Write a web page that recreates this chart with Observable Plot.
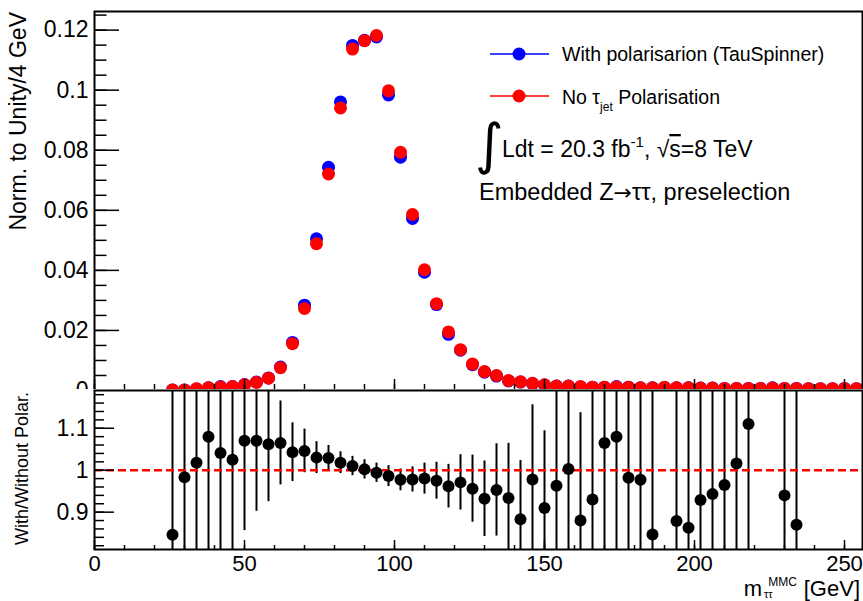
<!DOCTYPE html>
<html><head><meta charset="utf-8">
<script src="https://cdn.jsdelivr.net/npm/d3@7"></script>
<script src="https://cdn.jsdelivr.net/npm/@observablehq/plot@0.6"></script>
<style>
body{margin:0;background:#fff;}
#wrap{position:relative;width:863px;height:601px;overflow:hidden;background:#fff;font-family:"Liberation Sans",Arial,Helvetica,sans-serif;}
#topPanel,#botPanel{position:absolute;left:0;}
#topPanel{top:0;}
#botPanel{top:389px;background:#fff;}
svg{overflow:visible;}
</style></head><body><div id="wrap"><div id="topPanel"></div><div id="botPanel"></div></div>
<script>
// ---- data ----
const binCenters = [26,30,34,38,42,46,50,54,58,62,66,70,74,78,82,86,90,94,98,102,106,110,114,118,122,126,130,134,138,142,146,150,154,158,162,166,170,174,178,182,186,190,194,198,202,206,210,214,218,222,226,230,234,238,242,246,250,254];
const withPol = [0.0002,0.0002,0.0005,0.0009,0.0013,0.0013,0.0020,0.0028,0.0042,0.0078,
  0.0160,0.0284,0.0505,0.0743,0.0961,0.1149,0.1166,0.1177,0.0984,0.0777,
  0.0573,0.0394,0.0286,0.0187,0.0134,0.0086,0.0061,0.0048,0.0032,0.0028,
  0.0023,0.0018,0.0015,0.0015,0.0012,0.0011,0.0011,0.0013,0.0011,0.0009,
  0.0009,0.0010,0.0009,0.0009,0.0008,0.0008,0.0007,0.0007,0.0007,0.0007,
  0.0009,0.0007,0.0007,0.0006,0.0006,0.0006,0.0007,0.0006];
const noPol = [0.0002,0.0002,0.0006,0.0009,0.0012,0.0013,0.0019,0.0027,0.0041,0.0076,
  0.0156,0.0273,0.0489,0.0721,0.0941,0.1137,0.1165,0.1182,0.0998,0.0793,
  0.0586,0.0402,0.0289,0.0195,0.0136,0.0088,0.0063,0.0050,0.0033,0.0029,
  0.0024,0.0019,0.0015,0.0015,0.0013,0.0011,0.0011,0.0012,0.0011,0.0009,
  0.0009,0.0011,0.0009,0.0009,0.0008,0.0008,0.0007,0.0007,0.0007,0.0007,
  0.0008,0.0007,0.0007,0.0006,0.0006,0.0006,0.0007,0.0006];
const ratioX = [26,30,34,38,42,46,50,54,58,62,66,70,74,78,82,86,90,94,98,102,106,110,114,118,122,126,130,134,138,142,146,150,154,158,162,166,170,174,178,182,186,194,198,202,206,210,214,218,230,234];
const ratioVal = [0.846,0.983,1.018,1.080,1.041,1.025,1.070,1.070,1.062,1.065,
  1.043,1.046,1.030,1.029,1.018,1.010,1.002,0.994,0.986,0.977,
  0.978,0.980,0.975,0.962,0.971,0.956,0.932,0.953,0.934,0.883,
  0.978,0.910,0.963,1.003,0.880,0.930,1.065,1.080,0.982,0.977,
  0.847,0.879,0.863,0.929,0.943,0.965,1.016,1.110,0.940,0.870];
const ratioErr = [0.5,0.5,0.5,0.5,0.5,0.5,0.214,0.168,0.137,0.100,
  0.070,0.052,0.038,0.030,0.026,0.023,0.023,0.023,0.025,0.026,
  0.030,0.037,0.044,0.052,0.066,0.080,0.090,0.110,0.130,0.140,
  0.178,0.184,0.5,0.5,0.257,0.5,0.5,0.5,0.5,0.5,
  0.5,0.5,0.5,0.5,0.5,0.5,0.5,0.5,0.5,0.5];
const topYTicks = [0, 0.02, 0.04, 0.06, 0.08, 0.1, 0.12];
const topYLabels = ["0","0.02","0.04","0.06","0.08","0.1","0.12"];
const ratioYTicks = [0.9, 1, 1.1];
const ratioYLabels = ["0.9","1","1.1"];
const xTicks = [0, 50, 100, 150, 200, 250];
const xLabels = ["0","50","100","150","200","250"];
const seriesNames = ["With polarisarion (TauSpinner)", "No \u03c4", "jet", " Polarisation"];

// ---- layout ----
const FONT = '"Liberation Sans", Arial, Helvetica, sans-serif';
const W = 863, ML = 94, MR = 1;
const frameW = W - ML - MR;
const topH = 410, topMT = 11, topMB = 20, topFH = topH - topMT - topMB;
const botH = 212, botMT = 1, botMB = 52, botFH = botH - botMT - botMB;

const topData = binCenters.map((x, i) => ({x, a: withPol[i], b: noPol[i]}));
const ratioData = ratioX.map((x, i) => ({x, r: ratioVal[i], e: ratioErr[i]}));

const xMinor = d3.range(0, 257, 10);
const topYMinor = d3.range(0, 0.1261, 0.005);
const ratioYMinor = d3.range(0.82, 1.19, 0.02);
const topLabMap = new Map(topYTicks.map((t, i) => [t, topYLabels[i]]));
const ratioLabMap = new Map(ratioYTicks.map((t, i) => [t, ratioYLabels[i]]));
const xLabMap = new Map(xTicks.map((t, i) => [t, xLabels[i]]));

const topPlot = Plot.plot({
  width: W, height: topH, marginLeft: ML, marginRight: MR, marginTop: topMT, marginBottom: topMB,
  x: {domain: [0, 256], axis: null},
  y: {domain: [0, 0.1262]},
  style: {fontFamily: FONT, background: "transparent", color: "black", overflow: "visible"},
  marks: [
    Plot.dot(topData, {x: "x", y: "a", r: 6.5, fill: "#0000ff", clip: true}),
    Plot.dot(topData, {x: "x", y: "b", r: 6.5, fill: "#ff0000", clip: true}),
    Plot.tickY(topYMinor, {y: d => d, insetRight: frameW - 12.5, stroke: "black", strokeWidth: 1.5}),
    Plot.tickY(topYTicks, {y: d => d, insetRight: frameW - 25, stroke: "black", strokeWidth: 1.5}),
    Plot.tickX(xMinor, {x: d => d, insetTop: topFH - 6, stroke: "black", strokeWidth: 1.5}),
    Plot.tickX(xTicks, {x: d => d, insetTop: topFH - 11, stroke: "black", strokeWidth: 1.5}),
    Plot.axisY({ticks: topYTicks, tickSize: 0, tickPadding: 6, label: null, fontSize: 23, tickFormat: d => topLabMap.get(d)}),
    Plot.frame({stroke: "black", strokeWidth: 2})
  ]
});
document.getElementById("topPanel").appendChild(topPlot);

const botPlot = Plot.plot({
  width: W, height: botH, marginLeft: ML, marginRight: MR, marginTop: botMT, marginBottom: botMB,
  x: {domain: [0, 256]},
  y: {domain: [0.811, 1.19]},
  style: {fontFamily: FONT, background: "white", color: "black", overflow: "visible"},
  marks: [
    Plot.ruleX(ratioData, {x: "x", y1: d => d.r - d.e, y2: d => d.r + d.e, stroke: "black", strokeWidth: 2, clip: true}),
    Plot.ruleY([1], {stroke: "#ff0000", strokeWidth: 2.5, strokeDasharray: "8,4"}),
    Plot.dot(ratioData, {x: "x", y: "r", r: 6, fill: "black", clip: true}),
    Plot.tickY(ratioYMinor, {y: d => d, insetRight: frameW - 10, stroke: "black", strokeWidth: 1.5}),
    Plot.tickY(ratioYTicks, {y: d => d, insetRight: frameW - 20, stroke: "black", strokeWidth: 1.5}),
    Plot.tickX(xMinor, {x: d => d, insetTop: botFH - 4, stroke: "black", strokeWidth: 1.5}),
    Plot.tickX(xTicks, {x: d => d, insetTop: botFH - 9, stroke: "black", strokeWidth: 1.5}),
    Plot.axisY({ticks: ratioYTicks, tickSize: 0, tickPadding: 6, label: null, fontSize: 23, tickFormat: d => ratioLabMap.get(d)}),
    Plot.axisX({ticks: xTicks, tickSize: 0, tickPadding: 6, label: null, fontSize: 22, tickFormat: d => xLabMap.get(d)}),
    Plot.frame({stroke: "black", strokeWidth: 2})
  ]
});
document.getElementById("botPanel").appendChild(botPlot);

// ---- annotations on top panel ----
const ts = d3.select(topPlot);
const g = ts.append("g").attr("font-family", FONT).attr("fill", "black").attr("text-anchor", "start");
// y title
g.append("text").attr("transform", "translate(26,12) rotate(-90)").attr("text-anchor", "end")
  .attr("font-size", 23).text("Norm. to Unity/4 GeV");
// legend
g.append("line").attr("x1", 490).attr("x2", 549).attr("y1", 54).attr("y2", 54).attr("stroke", "#0000ff").attr("stroke-width", 1.5);
g.append("circle").attr("cx", 519).attr("cy", 54).attr("r", 6.5).attr("fill", "#0000ff");
g.append("text").attr("x", 562).attr("y", 61).attr("font-size", 19.5).text(seriesNames[0]);
g.append("line").attr("x1", 490).attr("x2", 549).attr("y1", 96).attr("y2", 96).attr("stroke", "#ff0000").attr("stroke-width", 1.5);
g.append("circle").attr("cx", 519).attr("cy", 96).attr("r", 6.5).attr("fill", "#ff0000");
const t2 = g.append("text").attr("x", 562).attr("y", 104).attr("font-size", 19.5);
t2.append("tspan").text(seriesNames[1]);
t2.append("tspan").attr("font-size", 12).attr("dy", 7).text(seriesNames[2]);
t2.append("tspan").attr("dy", -7).text(seriesNames[3]);
// integral
g.append("text").attr("x", 475).attr("y", 163).attr("font-family", '"DejaVu Sans", sans-serif').attr("font-size", 55).text("\u222b");
const t3 = g.append("text").attr("x", 502).attr("y", 157).attr("font-size", 23);
t3.append("tspan").text("Ldt = 20.3 fb");
t3.append("tspan").attr("font-size", 15).attr("dy", -10).text("-1");
t3.append("tspan").attr("dy", 10).text(", \u221a");
t3.append("tspan").attr("style", "text-decoration: overline").text("s");
t3.append("tspan").text("=8 TeV");
const t4 = g.append("text").attr("x", 479).attr("y", 200).attr("font-size", 23.5);
t4.append("tspan").text("Embedded Z");
t4.append("tspan").attr("font-family", '"DejaVu Sans", sans-serif').attr("font-size", 22).text("\u2192");
t4.append("tspan").text("\u03c4\u03c4, preselection");

// ---- annotations on ratio panel ----
const bs = d3.select(botPlot);
const gb = bs.append("g").attr("font-family", FONT).attr("fill", "black").attr("text-anchor", "start");
gb.append("text").attr("transform", "translate(28,3) rotate(-90)").attr("text-anchor", "end")
  .attr("font-size", 18).text("With/Without Polar.");
gb.append("text").attr("x", 860).attr("y", 207.3).attr("text-anchor", "end").attr("font-size", 22).text("[GeV]");
gb.append("text").attr("x", 797).attr("y", 196.5).attr("text-anchor", "end").attr("font-size", 12).text("MMC");
gb.append("text").attr("x", 764).attr("y", 209.3).attr("font-size", 11).text("\u03c4\u03c4");
gb.append("text").attr("x", 762).attr("y", 207.3).attr("text-anchor", "end").attr("font-size", 22).text("m");
</script>
</body></html>
